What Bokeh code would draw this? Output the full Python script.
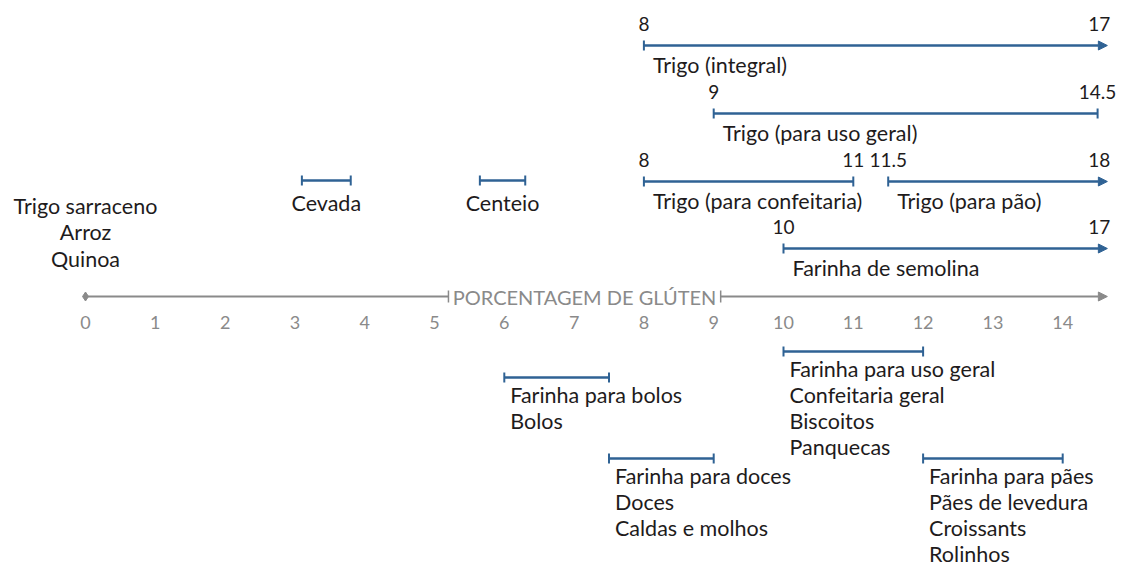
from bokeh.plotting import figure
from bokeh.models import Range1d, Arrow, TeeHead, NormalHead, ColumnDataSource
from bokeh.core.properties import value
from bokeh.embed import file_html
from bokeh.resources import INLINE

# ---------------- data ----------------
tick_values = list(range(0, 15))
axis_title = "PORCENTAGEM DE GLÚTEN"

grain_names = ["Trigo (integral)", "Trigo (para uso geral)", "Trigo (para confeitaria)",
               "Trigo (para pão)", "Farinha de semolina"]
grain_low = [8, 9, 8, 11.5, 10]
grain_high = [17, 14.5, 11, 18, 17]
grain_row = [0, 1, 2, 2, 3]

small_names = ["Cevada", "Centeio"]
small_low = [3.1, 5.65]
small_high = [3.8, 6.3]

zero_names = ["Trigo sarraceno", "Arroz", "Quinoa"]
zero_value = 0

flour_names = ["Farinha para bolos", "Farinha para doces", "Farinha para uso geral", "Farinha para pães"]
flour_low = [6, 7.5, 10, 12]
flour_high = [7.5, 9, 12, 14]
flour_uses = [["Bolos"], ["Doces", "Caldas e molhos"],
              ["Confeitaria geral", "Biscoitos", "Panquecas"],
              ["Pães de levedura", "Croissants", "Rolinhos"]]

# ---------------- layout / style ----------------
W, H = 1122, 567
PX = 69.8
X0 = -85 / PX
X1 = X0 + W / PX
CAP = 14.64            # visible end of the axis (arrow tip)
GAP = (5.2, 9.1)       # axis gap around the title
ROW_Y = [45, 113, 181, 248]
SMALL_Y = 180
AXIS_Y = 296
TICK_Y = 322
ZERO_Y0, ZERO_DY = 205, 26.5
FLOUR_Y = [377, 458, 351, 458]
LINE_DY = 26
BLUE = "#2f6294"
TXT = "#1e1b1c"
GRAY = "#8a8a8a"
FONT = value("Lato")
FS = "21.5px"
NFS = "19px"
TFS = "18px"

p = figure(width=W, height=H, x_range=Range1d(X0, X1), y_range=Range1d(H, 0),
           output_backend="svg", toolbar_location=None,
           x_axis_location=None, y_axis_location=None, min_border=0)
p.grid.visible = False
p.outline_line_color = None
p.background_fill_color = "white"


def txt(x, y, t, align="center", color=TXT, xo=0, size=FS):
    p.text(x=x, y=y, text=t, text_align=align, text_baseline="middle",
           text_color=color, text_font=FONT, text_font_size=size, x_offset=xo)


def ranges(x0, x1, y, open_end):
    src = ColumnDataSource(dict(x0=x0, x1=x1, y=y))
    end = (NormalHead(size=9, fill_color=BLUE, line_color=BLUE, line_width=1) if open_end
           else TeeHead(size=10, line_color=BLUE, line_width=2))
    p.add_layout(Arrow(x_start="x0", y_start="y", x_end="x1", y_end="y", source=src,
                       start=TeeHead(size=10, line_color=BLUE, line_width=2), end=end,
                       line_color=BLUE, line_width=2.5))


# ---- axis ----
p.scatter(x=[tick_values[0]], y=[AXIS_Y], marker="diamond", size=9, color=GRAY)
p.add_layout(Arrow(x_start=tick_values[0], y_start=AXIS_Y, x_end=GAP[0], y_end=AXIS_Y,
                   start=None, end=TeeHead(size=12, line_color=GRAY, line_width=1.5),
                   line_color=GRAY, line_width=2))
p.add_layout(Arrow(x_start=GAP[1], y_start=AXIS_Y, x_end=CAP, y_end=AXIS_Y,
                   start=TeeHead(size=12, line_color=GRAY, line_width=1.5),
                   end=NormalHead(size=9, fill_color=GRAY, line_color=GRAY, line_width=1),
                   line_color=GRAY, line_width=2))
txt([(GAP[0] + GAP[1]) / 2], [AXIS_Y], [axis_title], color=GRAY, size="20px")
txt(tick_values, [TICK_Y] * len(tick_values), [str(t) for t in tick_values], color=GRAY, size=TFS)

# ---- grains above the axis ----
gy = [ROW_Y[r] for r in grain_row]
opn = [h > CAP for h in grain_high]
fmt = lambda v: f"{v:g}"
for flag in (True, False):
    idx = [i for i in range(len(grain_names)) if opn[i] == flag]
    ranges([grain_low[i] for i in idx], [min(grain_high[i], CAP) for i in idx],
           [gy[i] for i in idx], flag)
    txt([grain_low[i] for i in idx], [gy[i] - 22 for i in idx],
        [fmt(grain_low[i]) for i in idx], size=NFS)
    txt([min(grain_high[i], CAP) for i in idx], [gy[i] - 22 for i in idx],
        [fmt(grain_high[i]) for i in idx], xo=-8 if flag else 0, size=NFS)
txt(grain_low, [y + 19 for y in gy], grain_names, align="left", xo=9)

# ---- small grains ----
ranges(small_low, small_high, [SMALL_Y] * len(small_low), False)
txt([(a + b) / 2 for a, b in zip(small_low, small_high)], [SMALL_Y + 22] * len(small_low), small_names)

# ---- gluten-free ----
txt([zero_value] * len(zero_names), [ZERO_Y0 + i * ZERO_DY for i in range(len(zero_names))], zero_names)

# ---- flours below the axis ----
ranges(flour_low, flour_high, FLOUR_Y, False)
for i, name in enumerate(flour_names):
    lines = [name] + flour_uses[i]
    txt([flour_low[i]] * len(lines), [FLOUR_Y[i] + 17 + k * LINE_DY for k in range(len(lines))],
        lines, align="left", xo=6)

open("out.html", "w").write(file_html(p, INLINE))
